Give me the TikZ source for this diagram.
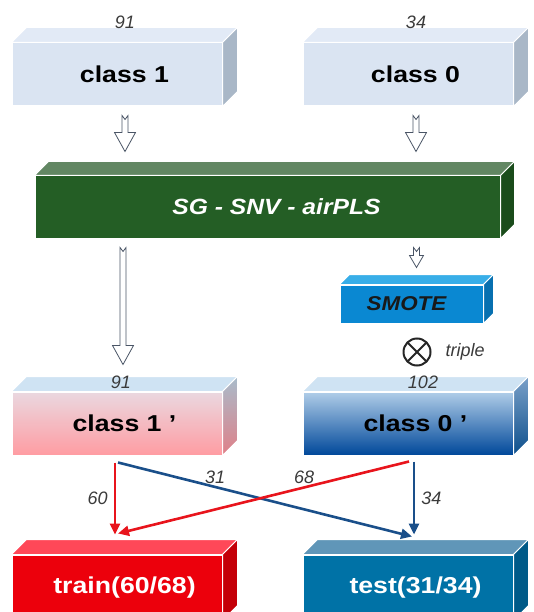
\documentclass[tikz,border=0pt]{standalone}
\usepackage{fontspec}
\setmainfont{Liberation Sans}
\usepackage{graphicx}
\usetikzlibrary{calc,arrows.meta}
\definecolor{clsfront}{HTML}{DAE4F2}
\definecolor{clstop}{HTML}{E2EAF6}
\definecolor{clsside}{HTML}{A9B7C7}
\definecolor{gfront}{HTML}{245E25}
\definecolor{gtop}{HTML}{628763}
\definecolor{gside}{HTML}{1A4C1B}
\definecolor{smfront}{HTML}{0A88D2}
\definecolor{smtop}{HTML}{38AEE8}
\definecolor{smside}{HTML}{0770B0}
\definecolor{ptop}{HTML}{CFE3F3}
\definecolor{pinktopc}{HTML}{EAD8E0}
\definecolor{pinkbotc}{HTML}{FF9CA2}
\definecolor{pinksidet}{HTML}{A8BCCB}
\definecolor{pinksideb}{HTML}{E08088}
\definecolor{bluetopc}{HTML}{B0CDE8}
\definecolor{bluemidc}{HTML}{3A78B8}
\definecolor{bluebotc}{HTML}{00489A}
\definecolor{bluesidet}{HTML}{7AA0C8}
\definecolor{bluesideb}{HTML}{0D4F8C}
\definecolor{trfront}{HTML}{EC000C}
\definecolor{trtop}{HTML}{FF4858}
\definecolor{trside}{HTML}{C40008}
\definecolor{tefront}{HTML}{0072A6}
\definecolor{tetop}{HTML}{6096B8}
\definecolor{teside}{HTML}{005A88}
\definecolor{numgray}{HTML}{3A3A3A}
\definecolor{lnred}{HTML}{E8141C}
\definecolor{lnblue}{HTML}{1A4F8A}
\definecolor{arrgray}{HTML}{4A5566}
\newcommand{\widetext}[2]{\hspace*{#1}\scalebox{1.16}[1]{#2}}
\newcommand{\boxfaces}[4]{%
  \path[draw=white,line width=1pt,#3] (#1.north west) -- ++(#2,-#2) -- ($(#1.north east)+(#2,-#2)$) -- (#1.north east) -- cycle;
  \path[draw=white,line width=1pt,#4] (#1.north east) -- ++(#2,-#2) -- ($(#1.south east)+(#2,-#2)$) -- (#1.south east) -- cycle;
}
\tikzset{
  face/.style={draw=white, line width=1pt, minimum width=210pt, minimum height=63pt, inner sep=0pt,
    font=\fontsize{23}{26}\selectfont\bfseries},
  num/.style={font=\fontsize{18}{20}\selectfont\itshape, text=numgray, inner sep=1pt},
  hollow/.style={draw=arrgray, fill=white, line width=0.8pt, line join=miter,
    to path={let \p1=(\tikztostart), \p2=(\tikztotarget) in
      (\x1-3pt,\y1) -- (\x1,\y1-4pt) -- (\x1+3pt,\y1) -- (\x1+3pt,\y2+#1)
      -- (\x1+0.5*#1+1pt,\y2+#1) -- (\x1,\y2) -- (\x1-0.5*#1-1pt,\y2+#1)
      -- (\x1-3pt,\y2+#1) -- cycle}},
  cross/.style={line width=2.6pt, -{Triangle[length=11pt,width=10pt]}}
}
\begin{document}
\begin{tikzpicture}[x=1pt,y=-1pt]
\useasboundingbox (0,0) rectangle (533,612);
\clip (0,0) rectangle (533,612);
% top boxes
\node[face, fill=clsfront] (c1) at (117,74.5) {\widetext{15pt}{class 1}};
\boxfaces{c1}{15}{fill=clstop}{fill=clsside}
\node[face, fill=clsfront] (c0) at (408,74.5) {\widetext{15pt}{class 0}};
\boxfaces{c0}{15}{fill=clstop}{fill=clsside}
\node[num] (n91) at (125,22) {91};
\node[num] (n34) at (416,22) {34};
% green
\node[face, fill=gfront, minimum width=465pt, minimum height=62pt, text=white,
  font=\fontsize{22}{26}\selectfont\bfseries\itshape] (g) at (267.5,207) {\hspace*{18pt}\scalebox{1.12}[1]{SG - SNV - airPLS}};
\boxfaces{g}{14}{fill=gtop}{fill=gside}
% smote
\node[face, fill=smfront, minimum width=143pt, minimum height=38pt, text=black!90,
  font=\fontsize{20}{24}\selectfont\bfseries\itshape] (sm) at (411.5,304) {\hspace*{-10pt}\scalebox{1.12}[1]{SMOTE}};
\boxfaces{sm}{10}{fill=smtop}{fill=smside}
% otimes
\node[circle, draw=black!85, line width=2pt, minimum size=27pt, inner sep=0pt,
  path picture={\draw[black!85, line width=2pt]
    (path picture bounding box.north west) -- (path picture bounding box.south east)
    (path picture bounding box.north east) -- (path picture bounding box.south west);}] (ot) at (417,352) {};
\node[num, anchor=west] (trip) at ($(ot.east)+(13,0)$) {triple};
% primed boxes
\node[face, top color=pinktopc, bottom color=pinkbotc] (c1p) at (117,423.5) {\widetext{15pt}{class 1 ’}};
\boxfaces{c1p}{15}{fill=ptop}{top color=pinksidet, bottom color=pinksideb}
\node[face, top color=bluetopc, middle color=bluemidc, bottom color=bluebotc] (c0p) at (408,423.5) {\widetext{15pt}{class 0 ’}};
\boxfaces{c0p}{15}{fill=ptop}{top color=bluesidet, bottom color=bluesideb}
\node[num] (n91b) at (121,382) {91};
\node[num] (n102) at (423,382) {102};
% result boxes
\node[face, fill=trfront, minimum height=65pt, text=white] (tr) at (117,587.5) {\widetext{15pt}{train(60/68)}};
\boxfaces{tr}{15}{fill=trtop}{fill=trside}
\node[face, fill=tefront, minimum height=65pt, text=white] (te) at (408,587.5) {\widetext{15pt}{test(31/34)}};
\boxfaces{te}{15}{fill=tetop}{fill=teside}
% hollow arrows
\draw[hollow=19pt] ($(c1.south)+(8,9)$) to ($(g.north)+(0,-24)$);
\draw[hollow=19pt] ($(c0.south)+(8,9)$) to ($(g.north)+(0,-24)$);
\draw[hollow=19pt] ($(g.south -| c1p.north)+(6,9)$) to ($(c1p.north)+(0,-27)$);
\draw[hollow=12pt] ($(g.south -| sm.north)+(5,9)$) to ($(sm.north)+(0,-17)$);
% crossing connectors
\draw[cross, lnred] ($(c1p.south)+(-2,7)$) -- node[num, left=5pt, pos=0.5] {60} ($(tr.north)+(-2,-20)$);
\draw[cross, lnblue] ($(c1p.south)+(1,7)$) -- node[num, above=1pt, pos=0.33] {31} ($(te.north)+(4,-18)$);
\draw[cross, lnred] ($(c0p.south)+(1,6)$) -- node[num, above=1pt, pos=0.36] {68} ($(tr.north)+(1,-21)$);
\draw[cross, lnblue] ($(c0p.south)+(6,6)$) -- node[num, right=5pt, pos=0.5] {34} ($(te.north)+(6,-20)$);
\end{tikzpicture}
\end{document}
